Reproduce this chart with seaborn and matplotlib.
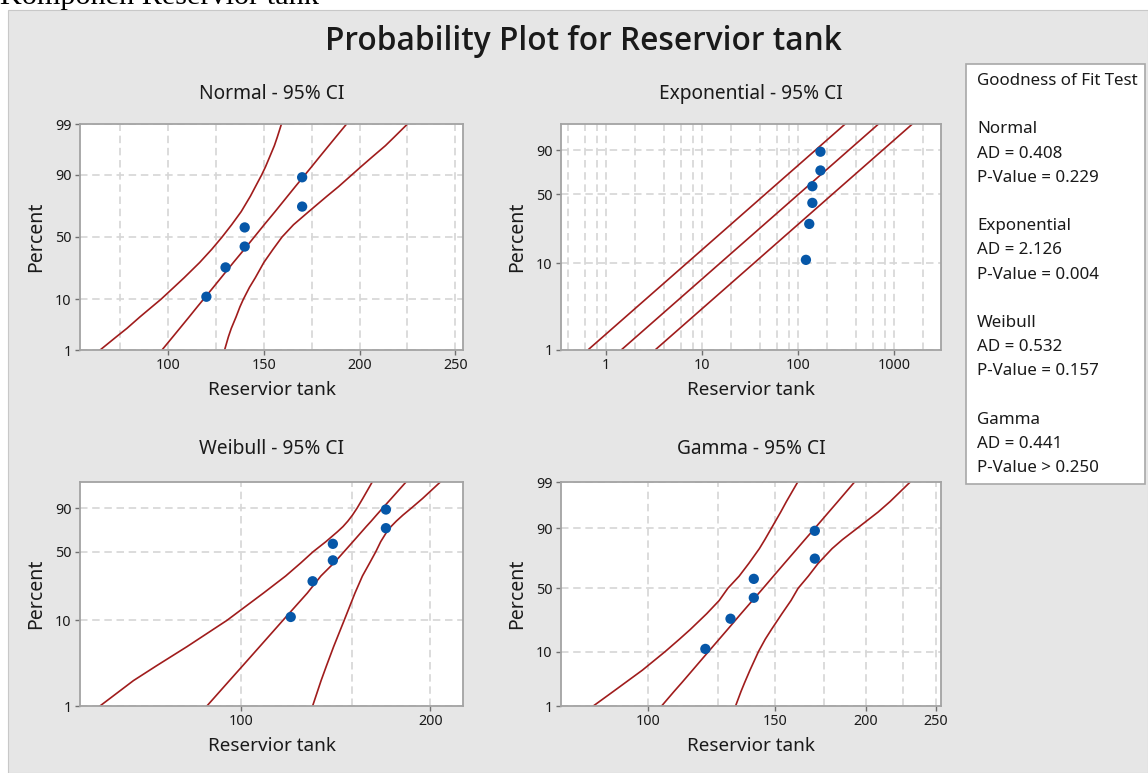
import numpy as np
import pandas as pd
import matplotlib
matplotlib.use("Agg")
import matplotlib.pyplot as plt
import seaborn as sns
from statistics import NormalDist
from matplotlib.patches import Rectangle
from matplotlib.ticker import FixedLocator, FixedFormatter, NullFormatter

# ---------------- data ----------------
tank_values = [120, 130, 140, 140, 170, 170]
plot_percent = [10.94, 26.56, 42.19, 57.81, 73.44, 89.06]

norm_pct = [1, 2, 3, 5, 7.5, 10, 15, 20, 30, 40, 50, 60, 70, 80, 85, 90, 92.5, 95, 97, 98, 99]
norm_fit = [96.8, 102.5, 106.1, 111.0, 115.2, 118.5, 123.6, 127.6, 134.1, 139.8, 145.0,
            150.2, 155.9, 162.4, 166.4, 171.5, 174.8, 179.0, 183.9, 187.5, 193.2]
norm_lower = [64.5, 73.0, 78.5, 85.3, 91.5, 96.3, 103.0, 108.3, 116.5, 122.8, 128.2,
              133.2, 138.2, 143.0, 145.6, 148.9, 150.8, 153.0, 155.5, 157.0, 159.2]
norm_upper = [129.5, 131.5, 133.0, 135.5, 137.5, 139.3, 142.5, 145.5, 150.0, 154.8, 159.5,
              165.5, 173.5, 183.0, 189.0, 196.0, 200.5, 206.5, 213.5, 218.0, 225.0]

expo_pct = [1, 10, 50, 90, 99.5]
expo_fit = [1.457, 15.28, 100.5, 333.9, 768.0]
expo_lower = [0.656, 6.88, 45.2, 150.3, 345.6]
expo_upper = [3.28, 34.4, 226.1, 751.3, 1728.0]

weib_pct = [1, 2, 3, 5, 10, 20, 30, 40, 50, 60, 70, 75, 80, 85, 90, 95, 99.2]
weib_fit = [88.3, 95.9, 100.7, 107.1, 116.6, 127.5, 134.0, 140.6, 145.8, 150.7, 155.6,
            158.2, 161.1, 164.2, 168.0, 173.4, 183.5]
weib_lower = [59.7, 67.5, 73.5, 82.1, 95.0, 108.6, 117.8, 124.5, 130.2, 136.5, 142.4,
              145.3, 147.9, 150.4, 153.0, 156.2, 162.0]
weib_upper = [130.0, 134.1, 136.8, 140.4, 145.9, 151.8, 156.0, 160.2, 163.8, 166.8, 170.6,
              173.2, 176.6, 180.9, 186.6, 194.4, 208.2]

gamma_pct = [1, 2, 3, 5, 10, 15, 20, 30, 40, 50, 60, 70, 80, 85, 90, 95, 97, 99]
gamma_fit = [104.4, 108.6, 111.4, 115.2, 121.2, 125.4, 128.8, 134.4, 139.4, 144.2, 149.0,
             154.3, 160.7, 164.7, 169.9, 177.7, 182.9, 192.9]
gamma_lower = [84.0, 89.5, 93.1, 98.2, 105.6, 110.5, 114.4, 120.5, 125.4, 128.9, 133.6,
               137.8, 142.5, 145.0, 148.0, 152.5, 155.3, 161.0]
gamma_upper = [132.1, 134.4, 136.0, 138.3, 142.1, 145.2, 148.1, 153.1, 157.6, 161.2, 166.5,
               171.8, 179.6, 185.6, 194.4, 207.9, 216.0, 230.3]

panel_titles = ["Normal - 95% CI", "Exponential - 95% CI", "Weibull - 95% CI", "Gamma - 95% CI"]
gof_lines = ["Goodness of Fit Test", "",
             "Normal", "AD = 0.408", "P-Value = 0.229", "",
             "Exponential", "AD = 2.126", "P-Value = 0.004", "",
             "Weibull", "AD = 0.532", "P-Value = 0.157", "",
             "Gamma", "AD = 0.441", "P-Value > 0.250"]

# ---------------- probability scales ----------------
_nd = NormalDist()
_ppf = np.vectorize(lambda q: _nd.inv_cdf(q), otypes=[float])
_cdf = np.vectorize(lambda z: _nd.cdf(z), otypes=[float])


def probit_fwd(p):
    p = np.clip(np.asarray(p, float), 1e-4, 100 - 1e-4) / 100.0
    return _ppf(p)


def probit_inv(z):
    return _cdf(np.asarray(z, float)) * 100.0


def sev_fwd(p):
    p = np.clip(np.asarray(p, float), 1e-4, 100 - 1e-4) / 100.0
    return np.log10(-np.log(1 - p))


def sev_inv(y):
    return 100.0 * (1 - np.exp(-10.0 ** np.asarray(y, float)))


G_A, G_C = 0.04377, 0.998084


def gam_fwd(p):
    z = probit_fwd(p)
    return np.log(np.clip(G_C + G_A * z, 1e-6, None))


def gam_inv(y):
    z = (np.exp(np.asarray(y, float)) - G_C) / G_A
    return probit_inv(z)


# ---------------- style ----------------
W, H = 1148, 773
sns.set_theme(style="white")
plt.rcParams["font.family"] = ["Noto Sans", "DejaVu Sans"]
RED = "#a01c1c"
BLUE = "#0657a8"
GRID = "#d6d6d6"
SPINE = "#a3a3a3"
TXT = "#1a1a1a"

fig = plt.figure(figsize=(W / 100, H / 100), dpi=100, facecolor="white")
fig.patches.append(Rectangle((8 / W, 0), 1 - 8 / W, 1 - 10 / H, transform=fig.transFigure,
                             facecolor="#e6e6e6", edgecolor="#c8c8c8", lw=0.8, zorder=-10))
fig.text(0.0, 1 - 4 / H, "Komponen Reservior tank", family=["Liberation Serif"],
         fontsize=21.8, va="baseline", ha="left", color="black")


def rect(l, t, r, b):
    return [l / W, 1 - b / H, (r - l) / W, (b - t) / H]


def make_ax(box, yfun, xlog):
    ax = fig.add_axes(rect(*box))
    ax.set_facecolor("white")
    if xlog:
        ax.set_xscale("log")
    ax.set_yscale("function", functions=yfun)
    return ax


def finish(ax, yticks, ylim, xlim, xmajor, xgrid, xlabels):
    ax.set_xlim(*xlim)
    ax.set_ylim(*ylim)
    ax.xaxis.set_major_locator(FixedLocator(xmajor))
    ax.xaxis.set_major_formatter(FixedFormatter(xlabels))
    ax.xaxis.set_minor_locator(FixedLocator(xgrid))
    ax.xaxis.set_minor_formatter(NullFormatter())
    ax.yaxis.set_major_locator(FixedLocator(yticks))
    ax.yaxis.set_major_formatter(FixedFormatter([str(t) for t in yticks]))
    ax.yaxis.set_minor_locator(FixedLocator([]))
    ax.grid(True, which="both", color=GRID, lw=1.2, ls=(0, (4.5, 2.8)))
    ax.set_axisbelow(True)
    for s in ax.spines.values():
        s.set_color(SPINE)
        s.set_linewidth(1.3)
    ax.tick_params(axis="both", which="major", direction="out", length=3.5, width=1,
                   color="#707070", labelsize=10.3, pad=2.5, labelcolor=TXT,
                   bottom=True, left=True)
    ax.tick_params(axis="both", which="minor", length=0)
    ax.set_xlabel("")
    ax.set_ylabel("")


def draw(ax, pct, fit, lo, hi):
    df = pd.DataFrame({
        "Reservior tank": list(lo) + list(fit) + list(hi),
        "Percent": list(pct) * 3,
        "curve": ["lower"] * len(pct) + ["fit"] * len(pct) + ["upper"] * len(pct),
    })
    sns.lineplot(data=df, x="Reservior tank", y="Percent", units="curve", estimator=None,
                 sort=False, color=RED, lw=1.2, ax=ax, legend=False)
    sns.scatterplot(x=tank_values, y=plot_percent, ax=ax, color=BLUE, s=55,
                    edgecolor="none", zorder=5, legend=False)


probit = (probit_fwd, probit_inv)
sev = (sev_fwd, sev_inv)
gam = (gam_fwd, gam_inv)

# Normal
ax1 = make_ax((80, 124, 463, 350), probit, False)
draw(ax1, norm_pct, norm_fit, norm_lower, norm_upper)
finish(ax1, [1, 10, 50, 90, 99], (1, 99), (54, 254), [100, 150, 200, 250],
       [75, 125, 175, 225], ["100", "150", "200", "250"])

# Exponential
ax2 = make_ax((561, 124, 941, 349.5), sev, True)
draw(ax2, expo_pct, expo_fit, expo_lower, expo_upper)
egrid = []
for dec in [0.1, 1, 10, 100, 1000]:
    for m in [2, 4, 6, 8]:
        egrid.append(m * dec)
egrid = [g for g in egrid if 0.34 < g < 3050]
finish(ax2, [1, 10, 50, 90], (1, 99.1), (0.34, 3050), [1, 10, 100, 1000],
       egrid, ["1", "10", "100", "1000"])

# Weibull
ax3 = make_ax((80, 482, 463, 706), sev, True)
draw(ax3, weib_pct, weib_fit, weib_lower, weib_upper)
finish(ax3, [1, 10, 50, 90], (1, 99.1), (55.5, 225.4), [100, 200],
       [150], ["100", "200"])

# Gamma
ax4 = make_ax((561, 482, 941, 706), gam, True)
draw(ax4, gamma_pct, gamma_fit, gamma_lower, gamma_upper)
finish(ax4, [1, 10, 50, 90, 99], (1, 99), (75.8, 254), [100, 150, 200, 250],
       [125, 175, 225], ["100", "150", "200", "250"])


# ---------------- texts ----------------
def ftext(x, y, s, **kw):
    fig.text(x / W, 1 - y / H, s, **kw)


ftext(583.5, 42, "Probability Plot for Reservior tank", fontsize=22.8,
      family=["Open Sans", "Noto Sans", "DejaVu Sans"], fontweight="semibold",
      ha="center", va="center", color=TXT)
centers = [(271.5, 94, 390, 36, 237), (751, 94, 390, 517, 237),
           (271.5, 449, 746, 36, 594), (751, 449, 746, 517, 594)]
for (cx, ty, xy, px, py), t in zip(centers, panel_titles):
    ftext(cx, ty, t, fontsize=13.8, ha="center", va="center", color=TXT)
    ftext(cx, xy, "Reservior tank", fontsize=13.6, ha="center", va="center", color=TXT)
    ftext(px, py, "Percent", fontsize=14, ha="center", va="center", rotation=90, color=TXT)

# goodness of fit box
fig.patches.append(Rectangle((966 / W, 1 - 484 / H), (1145 - 966) / W, (484 - 64) / H,
                             transform=fig.transFigure, facecolor="white",
                             edgecolor="#a8a8a8", lw=1.2, zorder=1))
y0 = 81
for i, line in enumerate(gof_lines):
    if line:
        ftext(977, y0 + i * 24.2, line, fontsize=12.2, ha="left", va="center", color=TXT,
              zorder=2)

fig.savefig("out.png", dpi=100, facecolor="white")
